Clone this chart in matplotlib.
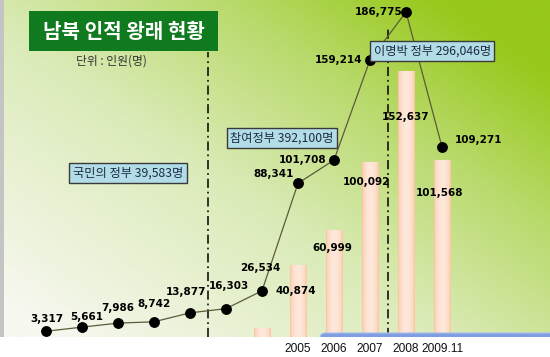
import numpy as np
import matplotlib
matplotlib.use("Agg")
import matplotlib.pyplot as plt
from matplotlib.colors import LinearSegmentedColormap, to_rgb
from matplotlib.patches import Rectangle, FancyBboxPatch

# ---------------- data ----------------
years = ["1998", "1999", "2000", "2001", "2002", "2003", "2004",
         "2005", "2006", "2007", "2008", "2009.11"]
line_values = [3317, 5661, 7986, 8742, 13877, 16303, 26534,
               88341, 101708, 159214, 186775, 109271]
bar_years = ["2004", "2005", "2006", "2007", "2008", "2009.11"]
bar_values = [4600, 40874, 60999, 100092, 152637, 101568]
tick_years = ["2005", "2006", "2007", "2008", "2009.11"]
periods = ["국민의 정부", "참여정부", "이명박 정부"]
period_totals = [39583, 392100, 296046]
period_last_year = ["2002", "2007"]
title = "남북 인적 왕래 현황"
unit_text = "단위 : 인원(명)"

# ---------------- style ----------------
W, H = 550, 357
KR = ["Noto Sans CJK KR", "DejaVu Sans"]
line_label_style = [(1, 12, "center"), (5, 10, "center"), (0, 15, "center"),
                    (0, 18, "center"), (-4, 21, "center"), (3, 23, "center"),
                    (-2, 23, "center"), (-4, 9, "right"), (-8, 0, "right"),
                    (-8, 0, "right"), (-3, 0, "right"), (13, 7, "left")]
bar_label_style = [None, (-2, -25), (-2, -17), (-4, -19), (0, -46), (-2, -33)]
period_box_pos = [(0.227, 0.487), (0.509, 0.590), (0.784, 0.849)]

fig = plt.figure(figsize=(W / 100, H / 100), dpi=100)
fig.patch.set_facecolor("white")
ax = fig.add_axes([4 / W, (H - 337) / H, (W - 4) / W, 337 / H])

# left grey strip
fig.add_artist(Rectangle((0, (H - 337) / H), 4 / W, 337 / H,
                         transform=fig.transFigure, color="#c4c4c4", lw=0))

# background gradient
nx, ny = 300, 200
X, Y = np.meshgrid(np.linspace(0, 1, nx), np.linspace(0, 1, ny))
T = np.clip(0.62 * X + 0.55 * Y - 0.05, 0, 1)
bg_cmap = LinearSegmentedColormap.from_list(
    "bg", [(0, "#f7f8f0"), (0.45, "#dbebb8"), (0.75, "#b9da6c"), (1, "#97c81a")])
ax.imshow(T, cmap=bg_cmap, vmin=0, vmax=1, extent=(0, 1, 0, 1),
          transform=ax.transAxes, origin="lower", aspect="auto",
          zorder=0, interpolation="bilinear")

xi = {y: i for i, y in enumerate(years)}
line_x = [xi[y] for y in years]
bar_x = [xi[y] for y in bar_years]

# bars with cylindrical gradient
edge, center = np.array(to_rgb("#f8bf98")), np.array(to_rgb("#fee8da"))
u = np.linspace(0, 1, 64)
s = np.sin(np.pi * u) ** 0.5
grad = (edge[None, :] * (1 - s[:, None]) + center[None, :] * s[:, None])[None, :, :]
bw = 0.47
for x, v in zip(bar_x, bar_values):
    ax.imshow(grad, extent=(x - bw / 2, x + bw / 2, 0, v), aspect="auto",
              zorder=2, interpolation="bilinear")

# period separators
for ly, top in zip(period_last_year, [0.846, 0.917]):
    ax.axvline(xi[ly] + 0.5, ymin=0, ymax=top, color="black", lw=1.1,
               ls=(0, (6, 2.5, 1.2, 2.5)), zorder=3)

# line
ax.plot(line_x, line_values, color="#5b5b3b", lw=0.9, zorder=4)
ax.plot(line_x, line_values, "o", color="black", ms=6.8, zorder=5)

for x, v, (dx, dy, ha) in zip(line_x, line_values, line_label_style):
    ax.annotate(f"{v:,}", (x, v), xytext=(dx, dy), textcoords="offset pixels",
                ha=ha, va="center", fontsize=7.5, fontweight="bold",
                family="DejaVu Sans", color="black", zorder=6)

for x, v, st in zip(bar_x, bar_values, bar_label_style):
    if st is None:
        continue
    ax.annotate(f"{v:,}", (x, v), xytext=st, textcoords="offset pixels",
                ha="center", va="center", fontsize=7.5, fontweight="bold",
                family="DejaVu Sans", color="black", zorder=6)

# period boxes
for (px, py), name, tot in zip(period_box_pos, periods, period_totals):
    ax.text(px, py, f"{name} {tot:,}명", transform=ax.transAxes,
            ha="center", va="center", fontsize=8.8, family=KR, color="#1d2b45",
            zorder=8,
            bbox=dict(boxstyle="square,pad=0.3", fc="#b2dce6", ec="#3a3a3a", lw=1))

# title box
ax.add_patch(Rectangle((25 / 546, (337 - 51) / 337), 189 / 546, 40 / 337,
                       transform=ax.transAxes, color="#0f7a1e", lw=0, zorder=7))
ax.text(0.219, 0.906, title, transform=ax.transAxes, ha="center", va="center",
        fontsize=14.5, fontweight="bold", family=KR, color="white", zorder=8)
ax.text(0.196, 0.819, unit_text, transform=ax.transAxes, ha="center",
        va="center", fontsize=8.5, family=KR, color="#333333", zorder=8)

# bottom blue decoration
ax.add_patch(FancyBboxPatch((0.5785, -0.05), 0.5, 0.0619,
                            boxstyle="round,pad=0,rounding_size=0.01",
                            mutation_aspect=1.63, transform=ax.transAxes,
                            fc="#7f9ee2", ec="#a9bff0", lw=0.8, zorder=7,
                            clip_on=True))

# category axis: pixel ~ 46 + 36 * index
ax.set_xlim(-1.1667, 14.0)
ax.set_ylim(0, 193700)
ax.set_xticks([xi[y] for y in tick_years])
ax.set_xticklabels(tick_years, family="Liberation Sans", fontsize=8.6, color="#111111")
ax.tick_params(axis="x", length=0, pad=4)
ax.set_yticks([])
for sp in ax.spines.values():
    sp.set_visible(False)

fig.savefig("out.png", dpi=100, facecolor="white")
